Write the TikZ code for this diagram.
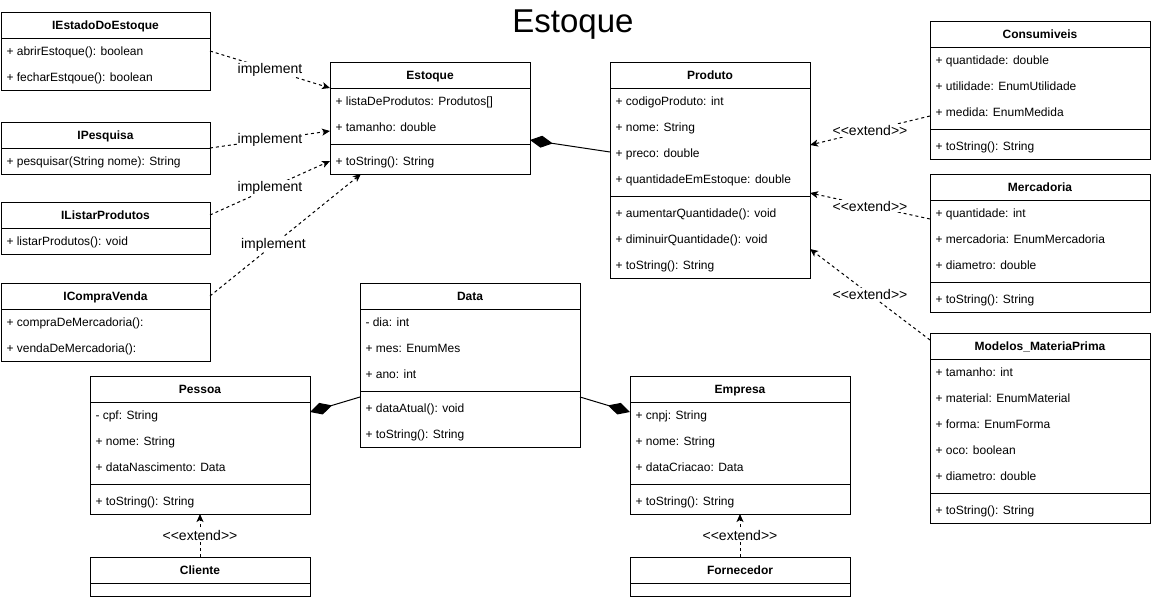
\documentclass[tikz,border=0pt]{standalone}
\usepackage{fontspec}
\setmainfont{Liberation Sans}
\usetikzlibrary{arrows.meta,calc}

\tikzset{
  classbox/.style={draw, rectangle, inner sep=0pt, outer sep=0pt, anchor=north west},
  classtitle/.style={anchor=base, inner sep=0pt, font=\fontsize{12}{14}\selectfont\bfseries},
  classrow/.style={anchor=base west, inner sep=0pt, font=\fontsize{12}{14}\selectfont},
  lbl/.style={fill=white, inner sep=1pt, font=\fontsize{14}{16}\selectfont},
  implarrow/.style={dash pattern=on 3pt off 3pt, -{Stealth[length=8pt,width=7pt,inset=2pt]}},
  extarrow/.style={implarrow},
  comp/.style={-{Diamond[length=23pt,width=12pt]}},
}

% class box: name, x, y, width, title, attributes, methods
\newcommand{\umlclass}[7]{%
  \node[classtitle] (#1-t) at ({#2+#4/2},{#3+17.5}) {#5};
  \draw ({#2},{#3+26}) -- ++(#4,0);
  \foreach \a [count=\i] in {#6} {
    \node[classrow] (#1-a\i) at ({#2+5},{#3+26+26*\i-8.5}) {\a};
    \xdef\nA{\i}
  }
  \pgfmathsetmacro\sepY{#3+26+26*\nA+4}
  \draw ({#2},\sepY) -- ++(#4,0);
  \foreach \m [count=\j] in {#7} {
    \node[classrow] (#1-m\j) at ({#2+5},{\sepY+4+26*\j-8.5}) {\m};
    \xdef\nM{\j}
  }
  \node[classbox, minimum width=#4, minimum height={34+26*\nA+26*\nM}] (#1) at (#2,#3) {};
}
% interface box: name, x, y, width, title, methods
\newcommand{\umliface}[6]{%
  \node[classtitle] (#1-t) at ({#2+#4/2},{#3+17.5}) {#5};
  \draw ({#2},{#3+26}) -- ++(#4,0);
  \foreach \a [count=\i] in {#6} {
    \node[classrow] (#1-a\i) at ({#2+5},{#3+26+26*\i-8.5}) {\a};
    \xdef\nA{\i}
  }
  \node[classbox, minimum width=#4, minimum height={26+26*\nA}] (#1) at (#2,#3) {};
}

\begin{document}
\begin{tikzpicture}[x=1pt, y=-1pt, line width=1pt]
	\useasboundingbox (0,0) rectangle (1151,597);
	\node[anchor=base, inner sep=0pt] (title) at (573,32) {\fontsize{33}{36}\selectfont Estoque};

	% interfaces
	\umliface{iestado}{1}{12}{209}{IEstadoDoEstoque}{+ abrirEstoque(): boolean, + fecharEstqoue(): boolean}
	\umliface{ipesquisa}{1}{122}{209}{IPesquisa}{+ pesquisar(String nome): String}
	\umliface{ilistar}{1}{202}{209}{IListarProdutos}{+ listarProdutos(): void}
	\umliface{icompra}{1}{283}{209}{ICompraVenda}{+ compraDeMercadoria():, + vendaDeMercadoria():}

	% classes
	\umlclass{estoque}{330}{62}{200}{Estoque}{+ listaDeProdutos: Produtos[], + tamanho: double}{+ toString(): String}
	\umlclass{produto}{610}{62}{200}{Produto}{+ codigoProduto: int, + nome: String, + preco: double, + quantidadeEmEstoque: double}{+ aumentarQuantidade(): void, + diminuirQuantidade(): void, + toString(): String}
	\umlclass{consumiveis}{930}{21}{220}{Consumiveis}{+ quantidade: double, + utilidade: EnumUtilidade, + medida: EnumMedida}{+ toString(): String}
	\umlclass{mercadoria}{930}{174}{220}{Mercadoria}{+ quantidade: int, + mercadoria: EnumMercadoria, + diametro: double}{+ toString(): String}
	\umlclass{modelos}{930}{333}{220}{Modelos\_MateriaPrima}{+ tamanho: int, + material: EnumMaterial, + forma: EnumForma, + oco: boolean, + diametro: double}{+ toString(): String}
	\umlclass{data}{360}{283}{220}{Data}{- dia: int, + mes: EnumMes, + ano: int}{+ dataAtual(): void, + toString(): String}
	\umlclass{pessoa}{90}{376}{220}{Pessoa}{- cpf: String, + nome: String, + dataNascimento: Data}{+ toString(): String}
	\umlclass{empresa}{630}{376}{220}{Empresa}{+ cnpj: String, + nome: String, + dataCriacao: Data}{+ toString(): String}

	% empty subclasses
	\node[classbox, minimum width=220, minimum height=39] (cliente) at (90,557) {};
	\node[classtitle] (cliente-t) at (200,574.5) {Cliente};
	\draw (90,583) -- ++(220,0);
	\node[classbox, minimum width=220, minimum height=39] (fornecedor) at (630,557) {};
	\node[classtitle] (fornecedor-t) at (740,574.5) {Fornecedor};
	\draw (630,583) -- ++(220,0);

	% implement
	\draw[implarrow] (iestado.east) -- node[lbl] {implement} ([yshift=-26pt]estoque.north west);
	\draw[implarrow] (ipesquisa.east) -- node[lbl] {implement} ([yshift=-13pt]estoque.west);
	\draw[implarrow] ([yshift=13pt]ilistar.east) -- node[lbl] {implement} ([yshift=13pt]estoque.south west);
	\draw[implarrow] ([yshift=-13pt]icompra.north east) -- node[lbl, pos=0.42] {implement} ([xshift=31pt]estoque.south west);

	% extend
	\draw[extarrow] ([yshift=-26pt]consumiveis.west) -- node[lbl] {<{}<extend>{}>} ([yshift=25pt]produto.east);
	\draw[extarrow] ([yshift=24pt]mercadoria.west) -- node[lbl] {<{}<extend>{}>} ([yshift=-23pt]produto.east);
	\draw[extarrow] ([yshift=-7pt]modelos.north west) -- node[lbl] {<{}<extend>{}>} ([yshift=29pt]produto.south east);
	\draw[extarrow] (cliente.north) -- node[lbl] {<{}<extend>{}>} (pessoa.south);
	\draw[extarrow] (fornecedor.north) -- node[lbl] {<{}<extend>{}>} (empresa.south);

	% composition
	\draw[comp] ([yshift=18pt]produto.west) -- ([yshift=-22pt]estoque.east);
	\draw[comp] ([yshift=-32pt]data.west) -- ([yshift=33pt]pessoa.east);
	\draw[comp] ([yshift=-32pt]data.east) -- ([yshift=33pt]empresa.west);
\end{tikzpicture}
\end{document}
